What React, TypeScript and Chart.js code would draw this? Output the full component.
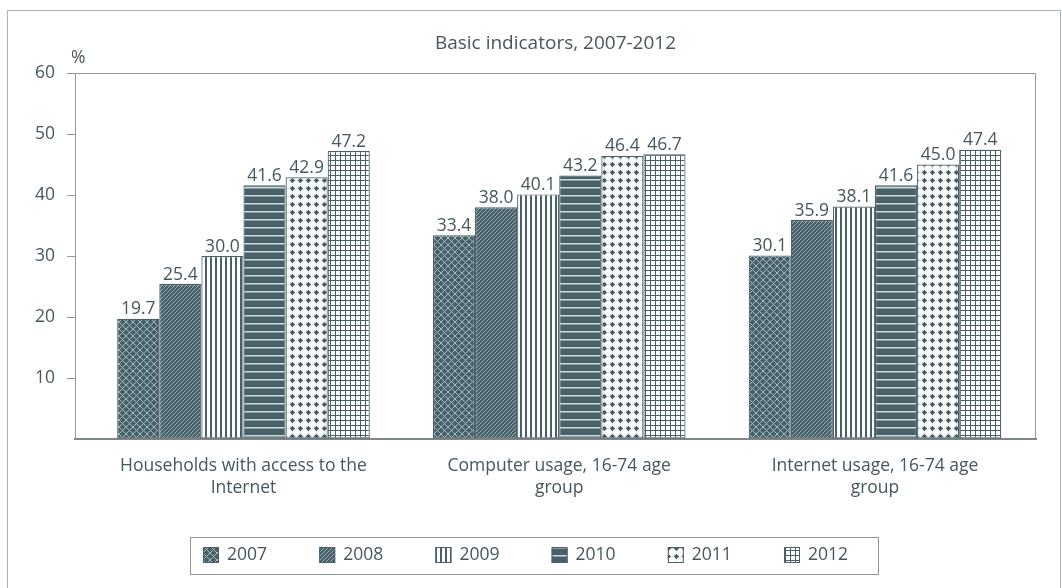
import React, { useEffect, useRef } from 'react';
import { Chart, registerables } from 'chart.js';

Chart.register(...registerables);

const categories: string[][] = [
  ['Households with access to the', 'Internet'],
  ['Computer usage, 16-74 age', 'group'],
  ['Internet usage, 16-74 age', 'group'],
];
const years = ['2007', '2008', '2009', '2010', '2011', '2012'];
const v2007 = [19.7, 33.4, 30.1];
const v2008 = [25.4, 38.0, 35.9];
const v2009 = [30.0, 40.1, 38.1];
const v2010 = [41.6, 43.2, 41.6];
const v2011 = [42.9, 46.4, 45.0];
const v2012 = [47.2, 46.7, 47.4];
const seriesValues = [v2007, v2008, v2009, v2010, v2011, v2012];
const yTickValues = [0, 10, 20, 30, 40, 50, 60];
const chartTitle = 'Basic indicators, 2007-2012';
const unitLabel = '%';

const FONT = '"Open Sans", "DejaVu Sans", sans-serif';
const FS = 17.5;
const TEXT = '#45575f';
const DARK = '#4a6069';
const LIGHT = '#a3bcc3';
const AXIS = '#8f9a9e';

function tile(w: number, h: number, draw: (c: CanvasRenderingContext2D) => void): CanvasPattern {
  const cv = document.createElement('canvas');
  cv.width = w;
  cv.height = h;
  const c = cv.getContext('2d')!;
  draw(c);
  return c.createPattern(cv, 'repeat')!;
}

function makePatterns(): CanvasPattern[] {
  const p2007 = tile(7, 7, (c) => {
    c.fillStyle = DARK;
    c.fillRect(0, 0, 7, 7);
    c.strokeStyle = LIGHT;
    c.lineWidth = 1.0;
    for (const o of [-7, 0, 7]) {
      c.beginPath();
      c.moveTo(o, 0);
      c.lineTo(o + 7, 7);
      c.moveTo(o + 7, 0);
      c.lineTo(o, 7);
      c.stroke();
    }
  });
  const p2008 = tile(4, 4, (c) => {
    c.fillStyle = DARK;
    c.fillRect(0, 0, 4, 4);
    c.strokeStyle = '#9fb6bc';
    c.lineWidth = 0.9;
    for (const o of [-4, 0, 4]) {
      c.beginPath();
      c.moveTo(o, 4);
      c.lineTo(o + 4, 0);
      c.stroke();
    }
  });
  const p2009 = tile(5, 1, (c) => {
    c.fillStyle = '#ffffff';
    c.fillRect(0, 0, 5, 1);
    c.fillStyle = DARK;
    c.fillRect(0, 0, 2, 1);
  });
  const p2010 = tile(1, 8, (c) => {
    c.fillStyle = DARK;
    c.fillRect(0, 0, 1, 8);
    c.fillStyle = '#cfdcdf';
    c.fillRect(0, 3, 1, 1.5);
  });
  const p2011 = tile(8, 8, (c) => {
    c.fillStyle = '#ffffff';
    c.fillRect(0, 0, 8, 8);
    c.fillStyle = '#d3dcdf';
    c.fillRect(0, 4, 8, 0.8);
    c.fillRect(4, 0, 0.8, 8);
    c.fillStyle = DARK;
    c.beginPath();
    c.arc(4.4, 4.4, 2.0, 0, Math.PI * 2);
    c.fill();
    c.fillRect(2.0, 3.9, 4.8, 1);
    c.fillRect(3.9, 2.0, 1, 4.8);
  });
  const p2012 = tile(5, 5, (c) => {
    c.fillStyle = '#ffffff';
    c.fillRect(0, 0, 5, 5);
    c.fillStyle = DARK;
    c.fillRect(0, 0, 5, 1);
    c.fillRect(0, 0, 1, 5);
  });
  return [p2007, p2008, p2009, p2010, p2011, p2012];
}

export default function App() {
  const ref = useRef<HTMLCanvasElement | null>(null);

  useEffect(() => {
    document.body.style.margin = '0';
    const canvas = ref.current!;
    const patterns = makePatterns();

    const decorPlugin = {
      id: 'decor',
      beforeDraw(chart: any) {
        const ctx = chart.ctx;
        ctx.save();
        ctx.fillStyle = '#ffffff';
        ctx.fillRect(0, 0, chart.width, chart.height);
        ctx.strokeStyle = '#aab4b8';
        ctx.lineWidth = 1;
        ctx.strokeRect(7.5, 10.5, 1053, 640);
        ctx.restore();
      },
      afterDraw(chart: any) {
        const ctx = chart.ctx;
        const a = chart.chartArea;
        ctx.save();
        ctx.strokeStyle = AXIS;
        ctx.lineWidth = 1;
        ctx.beginPath();
        ctx.moveTo(a.left, a.top + 0.5);
        ctx.lineTo(a.right - 0.5, a.top + 0.5);
        ctx.lineTo(a.right - 0.5, a.bottom);
        ctx.stroke();

        ctx.fillStyle = TEXT;
        ctx.font = `19px ${FONT}`;
        ctx.textAlign = 'center';
        ctx.textBaseline = 'middle';
        ctx.fillText(chartTitle, (a.left + a.right) / 2, 44);

        ctx.font = `${FS}px ${FONT}`;
        ctx.textAlign = 'left';
        ctx.fillText(unitLabel, a.left - 4, 58);

        ctx.textAlign = 'center';
        ctx.textBaseline = 'alphabetic';
        chart.data.datasets.forEach((ds: any, di: number) => {
          const meta = chart.getDatasetMeta(di);
          meta.data.forEach((bar: any, i: number) => {
            const v = ds.data[i].y;
            ctx.fillText(v.toFixed(1), bar.x, bar.y - 4.5);
          });
        });

        const lx = 190.5, ly = 537.5, lw = 688, lh = 37;
        ctx.strokeStyle = '#8c979b';
        ctx.strokeRect(lx, ly, lw, lh);
        chart.data.datasets.forEach((ds: any, di: number) => {
          const x = 203 + di * 116.2;
          const y = 547;
          ctx.fillStyle = ds.backgroundColor;
          ctx.fillRect(x, y, 16, 16);
          ctx.strokeStyle = DARK;
          ctx.strokeRect(x + 0.5, y + 0.5, 15, 15);
          ctx.fillStyle = TEXT;
          ctx.font = `${FS}px ${FONT}`;
          ctx.textAlign = 'left';
          ctx.textBaseline = 'middle';
          ctx.fillText(ds.label, x + 24, y + 8);
        });
        ctx.restore();
      },
    };

    const chart = new Chart(canvas, {
      type: 'bar',
      data: {
        datasets: years.map((yr, i) => ({
          label: yr,
          data: seriesValues[i].map((v, k) => ({ x: k, y: v })),
          backgroundColor: patterns[i] as any,
          borderColor: DARK,
          borderWidth: 1.2,
          borderSkipped: false,
          categoryPercentage: 0.8,
          barPercentage: 1.0,
        })),
      },
      options: {
        responsive: false,
        animation: false,
        devicePixelRatio: 1,
        layout: { padding: { left: 0, top: 73, right: 26, bottom: 89 } },
        plugins: {
          legend: { display: false },
          title: { display: false },
          tooltip: { enabled: false },
        },
        scales: {
          x: {
            type: 'linear',
            offset: false,
            min: -0.5336,
            max: 2.51,
            afterBuildTicks: (s: any) => {
              s.ticks = categories.map((_, i) => ({ value: i }));
            },
            afterFit: (s: any) => {
              s.height = 60;
            },
            ticks: {
              autoSkip: false,
              maxRotation: 0,
              padding: 8,
              color: TEXT,
              font: { family: FONT, size: FS, lineHeight: 1.27 },
              callback: (v: any) => categories[v as number] ?? '',
            },
            grid: { display: false, offset: false },
            border: { display: true, color: '#7d878b', width: 2 },
          },
          y: {
            min: 0,
            max: 60,
            afterBuildTicks: (s: any) => {
              s.ticks = yTickValues.map((v) => ({ value: v }));
            },
            afterFit: (s: any) => {
              s.width = 75;
            },
            ticks: {
              padding: 12,
              color: TEXT,
              font: { family: FONT, size: FS },
              callback: (v: any) => (v === 0 ? '' : String(v)),
            },
            grid: {
              drawOnChartArea: false,
              drawTicks: true,
              tickLength: 8,
              color: (c: any) => (c.tick && c.tick.value === 0 ? 'rgba(0,0,0,0)' : AXIS),
            },
            border: { display: true, color: AXIS, width: 1 },
          },
        },
      },
      plugins: [decorPlugin],
    } as any);

    return () => chart.destroy();
  }, []);

  return (
    <canvas
      ref={ref}
      width={1062}
      height={588}
      style={{ display: 'block', width: 1062, height: 588 }}
    />
  );
}
